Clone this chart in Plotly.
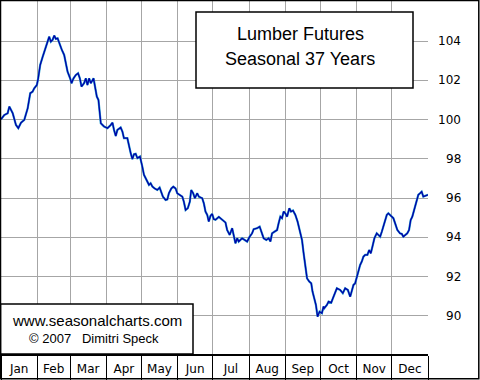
import plotly.graph_objects as go

# ---- data (day of year, seasonal index value) ----
days = [0.0, 2.8, 5.7, 7.1, 10.0, 12.8, 14.8, 17.1, 19.9, 22.8, 25.0, 27.0, 28.4, 30.7, 31.8, 33.5,
        35.6, 37.8, 39.8, 41.2, 42.6, 44.1, 45.5, 46.9, 48.4, 49.7, 52.0, 54.0, 55.4, 56.9, 59.1,
        60.3, 62.0, 64.0, 65.9, 67.4, 68.8, 71.0, 72.5, 73.9, 75.3, 76.8, 79.1, 80.2, 81.9, 83.3,
        84.4, 85.3, 88.1, 91.0, 93.8, 95.3, 96.6, 98.1, 99.5, 102.3, 103.8, 105.1, 108.0, 109.4,
        110.9, 112.3, 113.7, 115.1, 116.6, 118.8, 120.0, 120.8, 122.2, 124.5, 126.5, 127.9, 129.4,
        131.3, 133.6, 135.6, 137.0, 138.4, 140.7, 142.2, 143.5, 145.6, 147.3, 149.2, 150.7, 152.7,
        155.0, 156.3, 157.8, 159.7, 161.4, 162.6, 164.3, 165.7, 167.7, 169.1, 172.0, 173.4, 174.8,
        176.3, 177.6, 179.1, 180.5, 181.9, 183.4, 186.2, 189.1, 191.9, 193.3, 195.5, 197.6, 199.0,
        200.4, 201.9, 203.2, 206.1, 208.9, 210.4, 212.6, 214.6, 216.0, 218.9, 221.1, 223.2, 224.5,
        226.8, 228.8, 230.3, 231.7, 233.7, 236.0, 237.3, 238.8, 240.2, 241.6, 243.0, 244.5, 246.5,
        247.9, 249.6, 251.6, 253.5, 255.2, 257.3, 258.7, 260.1, 261.6, 263.5, 265.2, 266.3, 267.8,
        269.2, 270.6, 272.3, 274.3, 275.7, 276.3, 278.6, 280.0, 282.3, 283.7, 285.7, 287.1, 290.0,
        292.2, 294.2, 296.5, 298.5, 299.9, 301.3, 302.7, 304.2, 305.6, 307.0, 308.4, 309.8, 311.3,
        313.2, 314.7, 316.1, 317.5, 319.2, 321.2, 322.6, 324.1, 325.5, 326.9, 328.3, 329.8, 331.1,
        333.4, 335.4, 336.9, 338.8, 341.1, 342.6, 343.9, 345.4, 347.3, 348.8, 350.2, 351.6, 353.1,
        354.5, 355.4, 356.7, 358.2, 359.6, 361.0, 362.4, 363.9, 365.0]
values = [100.02, 100.24, 100.33, 100.67, 100.33, 99.73, 99.57, 99.85, 99.99, 100.58, 101.35, 101.43,
          101.60, 101.77, 102.11, 102.79, 103.20, 103.64, 104.07, 104.23, 103.98, 104.07, 104.29,
          104.12, 104.15, 103.90, 103.56, 103.30, 102.79, 102.45, 102.11, 101.86, 102.11, 102.28,
          102.37, 102.11, 101.69, 101.86, 102.11, 101.77, 102.11, 101.86, 102.11, 101.69, 101.18,
          101.01, 100.41, 99.82, 99.65, 99.57, 99.73, 99.85, 99.48, 99.17, 99.48, 99.60, 99.39,
          99.06, 99.06, 98.63, 98.29, 97.99, 98.24, 98.26, 98.04, 98.12, 97.86, 97.61, 97.19, 96.93,
          96.68, 96.76, 96.59, 96.50, 96.42, 96.54, 96.33, 96.08, 95.91, 95.94, 96.25, 96.50, 96.59,
          96.50, 96.25, 96.17, 96.08, 95.82, 95.40, 95.49, 95.82, 96.42, 96.25, 96.00, 96.25, 96.08,
          96.00, 95.74, 95.32, 95.15, 94.81, 95.10, 95.20, 94.93, 94.90, 95.05, 94.90, 94.76, 94.38,
          94.13, 94.47, 94.13, 93.70, 93.96, 93.79, 93.96, 93.87, 93.79, 94.04, 94.21, 94.42, 94.47,
          94.55, 94.21, 93.96, 93.87, 93.96, 93.79, 94.21, 94.29, 94.38, 94.72, 95.06, 94.98, 95.32,
          95.23, 95.06, 95.49, 95.32, 95.37, 95.15, 94.81, 94.38, 93.87, 93.19, 92.51, 91.92, 91.75,
          91.66, 91.24, 90.81, 90.56, 89.96, 90.22, 90.14, 90.48, 90.39, 90.56, 90.73, 90.68, 90.90,
          91.24, 91.41, 91.32, 91.16, 91.41, 91.32, 90.98, 91.32, 91.58, 91.66, 92.00, 92.43, 92.60,
          92.77, 93.02, 93.11, 93.11, 93.36, 93.19, 93.53, 93.96, 94.21, 94.13, 94.04, 94.29, 94.55,
          94.81, 95.15, 95.23, 95.10, 94.98, 94.72, 94.38, 94.21, 94.18, 94.04, 94.13, 94.21, 94.38,
          94.89, 95.06, 95.40, 95.74, 96.00, 96.17, 96.25, 96.33, 96.08, 96.12, 96.17, 96.17]

months = ["Jan", "Feb", "Mar", "Apr", "May", "Jun", "Jul", "Aug", "Sep", "Oct", "Nov", "Dec"]
month_days = [31, 28, 31, 30, 31, 30, 31, 31, 30, 31, 30, 31]
y_ticks = [90, 92, 94, 96, 98, 100, 102, 104]
title_lines = ["Lumber Futures", "Seasonal 37 Years"]
credit_lines = ["www.seasonalcharts.com", "©\u00a02007\u00a0\u00a0\u00a0Dimitri\u00a0Speck"]

month_starts = [0]
for d in month_days:
    month_starts.append(month_starts[-1] + d)
month_mids = [(month_starts[i] + month_starts[i + 1]) / 2 for i in range(12)]

W, H = 480, 380
L, R, T, B = 1, 52, 1, 26
PW, PH = W - L - R, H - T - B


def px(x):
    return (x - L) / PW


def py(y):
    return (H - B - y) / PH


fig = go.Figure()
# light fringe underneath (main x axis), dark line on top (overlaying x2 axis is drawn above)
fig.add_trace(go.Scatter(x=days, y=values, mode="lines",
                         line=dict(color="#2a9fd0", width=2.2), hoverinfo="skip"))
fig.add_trace(go.Scatter(x=days, y=values, mode="lines", xaxis="x2",
                         line=dict(color="#0000a8", width=1.3)))

shapes = [
    # title box
    dict(type="rect", xref="paper", yref="paper", x0=px(196), x1=px(413), y0=py(88), y1=py(12),
         fillcolor="white", line=dict(color="black", width=1.5), layer="above"),
    # credit box
    dict(type="rect", xref="paper", yref="paper", x0=px(0.5), x1=px(193), y0=py(354), y1=py(304),
         fillcolor="white", line=dict(color="black", width=1.5), layer="above"),
    # outer frame
    dict(type="rect", xref="paper", yref="paper", x0=px(0.5), x1=px(478.8), y0=py(378.8), y1=py(0.5),
         line=dict(color="black", width=1.5), layer="above"),
]

annotations = []
for i, t in enumerate(title_lines):
    annotations.append(dict(text=t, xref="paper", yref="paper", x=px(300), y=py([33.5, 58.5][i]),
                            xanchor="center", yanchor="middle", showarrow=False,
                            font=dict(family="Liberation Sans, Arial", size=18, color="black")))
for i, t in enumerate(credit_lines):
    annotations.append(dict(text=t, xref="paper", yref="paper", x=px([97, 94][i]), y=py([320, 338][i]),
                            xanchor="center", yanchor="middle", showarrow=False,
                            font=dict(family="Liberation Sans, Arial", size=[15, 13][i], color="black")))
for v in y_ticks:
    annotations.append(dict(text=str(v), xref="paper", yref="y", x=px(462.5), y=v,
                            xanchor="right", yanchor="middle", showarrow=False,
                            font=dict(family="DejaVu Sans", size=12, color="black")))

fig.update_layout(
    width=W, height=H,
    margin=dict(l=L, r=R, t=T, b=B, pad=0),
    paper_bgcolor="white", plot_bgcolor="white",
    showlegend=False,
    shapes=shapes,
    annotations=annotations,
    xaxis=dict(range=[0, 365], tickvals=month_starts, showticklabels=False,
               ticks="outside", ticklen=25, tickwidth=1, tickcolor="black",
               showgrid=True, gridcolor="#a6a6a6", gridwidth=1, zeroline=False,
               showline=True, linecolor="black", linewidth=2, mirror=False),
    xaxis2=dict(range=[0, 365], overlaying="x", anchor="y", side="bottom",
                tickvals=month_mids, ticktext=months, ticks="outside", ticklen=4,
                tickcolor="rgba(0,0,0,0)", showgrid=False, zeroline=False, showline=False,
                tickfont=dict(family="DejaVu Sans", size=12, color="black")),
    yaxis=dict(range=[88.06, 106.05], tickvals=y_ticks, showticklabels=False, ticks="",
               showgrid=True, gridcolor="#a6a6a6", gridwidth=1, zeroline=False, showline=False),
)

fig.write_html("out.html")
